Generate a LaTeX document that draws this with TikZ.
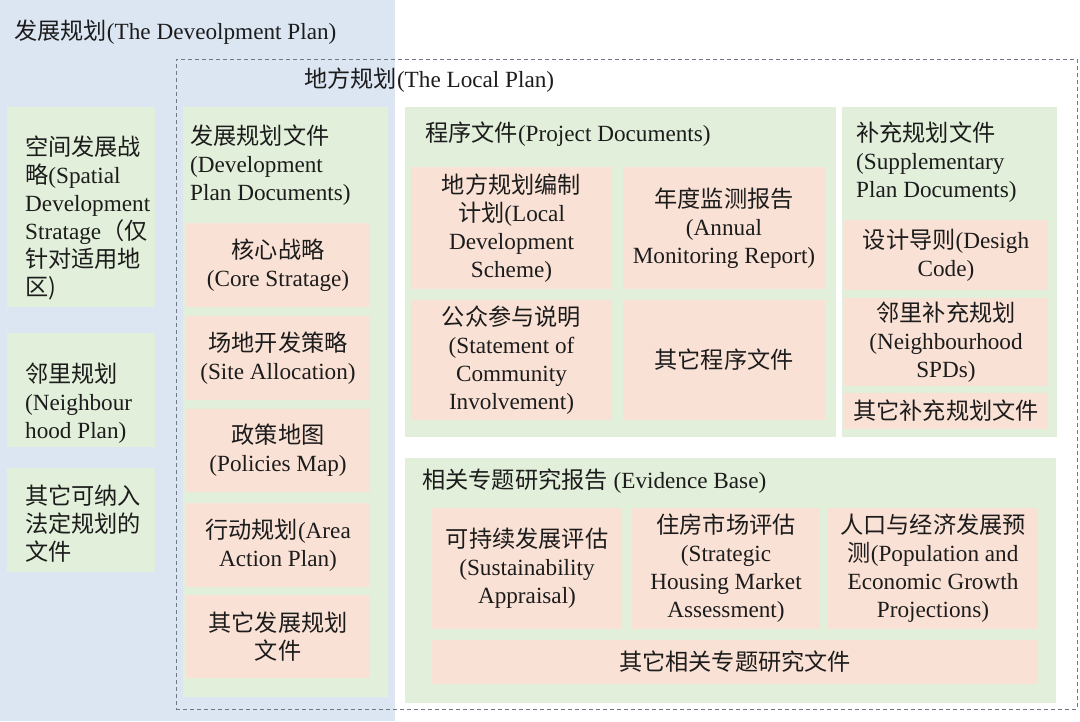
\documentclass[tikz,border=0pt]{standalone}
\usepackage{fontspec}
\setmainfont{Liberation Serif}
\newfontfamily\cjk[Scale=1.0]{Noto Sans CJK SC}
\newcommand\zh[1]{{\cjk #1}}
\definecolor{bluebg}{RGB}{220,230,243}
\definecolor{greenbg}{RGB}{226,239,218}
\definecolor{pinkbg}{RGB}{250,225,213}
\definecolor{txt}{RGB}{28,28,28}
\definecolor{dashc}{RGB}{110,120,135}
\begin{document}
\begin{tikzpicture}[x=1pt,y=-1pt,
  every node/.style={font=\fontsize{23.2}{28}\selectfont, text=txt},
  panel/.style={fill=bluebg, inner sep=0pt, outer sep=0pt, anchor=north west},
  greenbox/.style={fill=greenbg, inner sep=0pt, outer sep=0pt, anchor=north west},
  pinkbox/.style={fill=pinkbg, inner sep=0pt, outer sep=0pt, align=center},
  lefttext/.style={inner sep=0pt, align=left, anchor=west},
  dashbox/.style={draw=dashc, line width=0.8pt, dash pattern=on 4pt off 3pt, inner sep=0pt, outer sep=0pt, anchor=north west},
  ]
\useasboundingbox (0,0) rectangle (1080,721);
% background panel
\node[panel, minimum width=395pt, minimum height=721pt] (devplan) at (0,0) {};
\node[dashbox, minimum width=901pt, minimum height=650pt] (localplan) at (176,59) {};
\node[lefttext] (devtitle) at (14,32) {\zh{发展规划}(The Deveolpment Plan)};
\node[lefttext] (localtitle) at (304,80) {\zh{地方规划}(The Local Plan)};
% left column
\node[greenbox, minimum width=148pt, minimum height=200pt] (L1) at (7,107) {};
\node[greenbox, minimum width=148pt, minimum height=114pt] (L2) at (7,333) {};
\node[greenbox, minimum width=148pt, minimum height=104pt] (L3) at (7,468) {};
\node[lefttext] (L1t) at (25,218) {\zh{空间发展战}\\\zh{略}(Spatial\\Development\\Stratage\zh{（仅}\\\zh{针对适用地}\\\zh{区)}};
\node[lefttext] (L2t) at (25,403) {\zh{邻里规划}\\(Neighbour\\hood Plan)};
\node[lefttext] (L3t) at (25,524) {\zh{其它可纳入}\\\zh{法定规划的}\\\zh{文件}};
% development plan documents
\node[greenbox, minimum width=205pt, minimum height=590pt] (D) at (183,107) {};
\node[lefttext] (Dt) at (190,165) {\zh{发展规划文件}\\(Development\\Plan Documents)};
\node[pinkbox, minimum width=184pt, minimum height=84pt] (D1) at (278,265) {\zh{核心战略}\\(Core Stratage)};
\node[pinkbox, minimum width=184pt, minimum height=84pt] (D2) at (278,358) {\zh{场地开发策略}\\(Site Allocation)};
\node[pinkbox, minimum width=184pt, minimum height=83pt] (D3) at (278,450.5) {\zh{政策地图}\\(Policies Map)};
\node[pinkbox, minimum width=184pt, minimum height=84pt] (D4) at (278,545) {\zh{行动规划}(Area\\Action Plan)};
\node[pinkbox, minimum width=184pt, minimum height=83pt] (D5) at (278,636.5) {\zh{其它发展规划}\\\zh{文件}};
% project documents
\node[greenbox, minimum width=431pt, minimum height=330pt] (P) at (405,107) {};
\node[lefttext] (Pt) at (425,134) {\zh{程序文件}(Project Documents)};
\node[pinkbox, minimum width=201pt, minimum height=122pt] (P1) at (511.5,228) {\zh{地方规划编制}\\\zh{计划}(Local\\Development\\Scheme)};
\node[pinkbox, minimum width=202pt, minimum height=122pt] (P2) at (724,228) {\zh{年度监测报告}\\(Annual\\Monitoring Report)};
\node[pinkbox, minimum width=201pt, minimum height=120pt] (P3) at (511.5,360) {\zh{公众参与说明}\\(Statement of\\Community\\Involvement)};
\node[pinkbox, minimum width=202pt, minimum height=120pt] (P4) at (724,360) {\zh{其它程序文件}};
% supplementary plan documents
\node[greenbox, minimum width=215pt, minimum height=330pt] (S) at (842,107) {};
\node[lefttext] (St) at (856,162) {\zh{补充规划文件}\\(Supplementary\\Plan Documents)};
\node[pinkbox, minimum width=204pt, minimum height=70pt] (S1) at (946,255) {\zh{设计导则}(Desigh\\Code)};
\node[pinkbox, minimum width=204pt, minimum height=88pt] (S2) at (946,342) {\zh{邻里补充规划}\\(Neighbourhood\\SPDs)};
\node[pinkbox, minimum width=204pt, minimum height=36pt] (S3) at (946,411) {\zh{其它补充规划文件}};
% evidence base
\node[greenbox, minimum width=651pt, minimum height=245pt] (E) at (405,458) {};
\node[lefttext] (Et) at (422,481) {\zh{相关专题研究报告} (Evidence Base)};
\node[pinkbox, minimum width=190pt, minimum height=121pt] (E1) at (527,568.5) {\zh{可持续发展评估}\\(Sustainability\\Appraisal)};
\node[pinkbox, minimum width=188pt, minimum height=121pt] (E2) at (726,568.5) {\zh{住房市场评估}\\(Strategic\\Housing Market\\Assessment)};
\node[pinkbox, minimum width=210pt, minimum height=121pt] (E3) at (933,568.5) {\zh{人口与经济发展预}\\\zh{测}(Population and\\Economic Growth\\Projections)};
\node[pinkbox, minimum width=606pt, minimum height=44pt] (E4) at (735,662) {\zh{其它相关专题研究文件}};
\end{tikzpicture}
\end{document}
